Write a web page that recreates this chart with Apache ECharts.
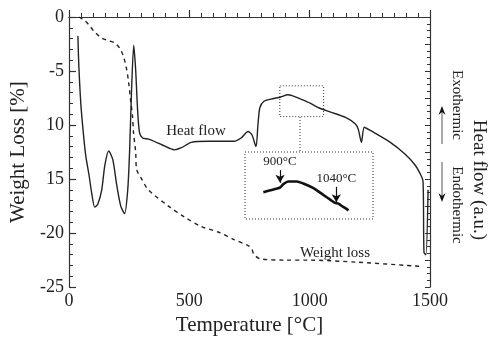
<!DOCTYPE html>
<html>
<head>
<meta charset="utf-8">
<script src="https://cdn.jsdelivr.net/npm/echarts@6/dist/echarts.min.js"></script>
<style>
  html, body { margin: 0; padding: 0; background: #fff; }
  #chart { width: 489px; height: 341px; }
</style>
</head>
<body>
<div id="chart"></div>
<script>
// temperature [°C], weight loss [%]
var weightLoss = [
  [41, 0], [66, -0.35], [83, -0.74], [107, -1.4], [136, -1.94], [165, -2.2],
  [190, -2.4], [211, -2.9], [227, -3.7], [240, -4.9], [248, -6.1], [256, -7.7],
  [264, -9.2], [268, -10.7], [277, -12.5], [281, -14.1], [302, -15.0], [330, -16.0],
  [413, -17.5], [479, -18.5], [550, -19.4], [620, -19.9], [686, -20.6], [748, -21.2],
  [760, -21.5], [769, -22.0], [797, -22.4], [900, -22.5], [992, -22.5], [1200, -22.7],
  [1471, -23.1]
];
// heat flow, arbitrary units (drawn on the right axis)
var heatFlow = [
  [37, -1.75], [41, -4.6], [50, -8.3], [62, -11.3], [70, -12.9], [83, -14.6],
  [95, -16.4], [107, -17.6], [120, -17.3], [136, -16.0], [149, -13.7], [165, -12.4],
  [182, -13.2], [198, -15.5], [215, -17.5], [231, -18.2], [244, -16.0], [252, -12.3],
  [260, -6.7], [269, -2.6], [277, -4.9], [285, -8.6], [293, -10.7], [306, -11.2],
  [331, -11.3], [384, -11.8], [438, -12.3], [467, -12.1], [508, -11.6], [579, -11.5],
  [686, -11.5], [715, -11.2], [744, -10.6], [760, -10.9], [777, -12.0], [785, -10.0],
  [793, -8.4], [810, -7.8], [839, -7.6], [880, -7.4], [909, -7.2], [930, -7.3],
  [963, -7.6], [1004, -8.0], [1037, -8.4], [1087, -8.8], [1149, -9.3], [1190, -9.9],
  [1202, -10.4], [1215, -11.6], [1227, -10.2], [1252, -10.5], [1335, -11.6], [1397, -12.7],
  [1438, -13.7], [1459, -14.5], [1471, -15.2], [1475, -21.8], [1483, -22.0], [1492, -16.0]
];
// magnified part of heat flow curve shown in the inset
var insetCurve = [
  [859, 4.0], [884, 4.4], [900, 4.7], [908, 5.2], [920, 5.6], [941, 5.6],
  [957, 5.3], [982, 4.6], [1006, 3.6], [1023, 2.9], [1035, 2.4], [1043, 2.3],
  [1055, 1.8], [1068, 1.3]
];
var xTicks = [0, 500, 1000, 1500];
var yTickLabels = ['-25', '-20', '15', '10', '-5', '0'];
var zoomBox = [[876, -6.37], [1058, -9.22]];
var arrowMarks = [
  { name: '900°C', from: [900, 7.3], to: [900, 5.4] },
  { name: '1040°C', from: [1038, 4.8], to: [1038, 2.5] }
];

var serif = '"Liberation Serif", "DejaVu Serif", serif';
var ink = '#222';
var axisCol = '#333';

var chart = echarts.init(document.getElementById('chart'), null, { renderer: 'canvas' });

var option = {
  backgroundColor: '#fff',
  animation: false,
  grid: [
    { left: 67, right: 59, top: 17, bottom: 53 },
    { left: 245, top: 152, width: 128, height: 67 }
  ],
  xAxis: [
    {
      type: 'value', gridIndex: 0, min: 0, max: 1500, interval: 500,
      name: 'Temperature [°C]', nameLocation: 'middle', nameGap: 25,
      nameTextStyle: { fontFamily: serif, fontSize: 21, color: ink },
      axisLine: { lineStyle: { color: axisCol, width: 1.2 } },
      axisTick: { inside: true, length: 7, lineStyle: { color: axisCol, width: 1.2 } },
      minorTick: { show: true, splitNumber: 10, length: 4, lineStyle: { color: axisCol, width: 1 } },
      axisLabel: {
        fontFamily: serif, fontSize: 18, color: ink, margin: 5,
        formatter: function (v) { return xTicks.indexOf(v) >= 0 ? String(v) : ''; }
      },
      splitLine: { show: false }
    },
    {
      type: 'value', gridIndex: 0, position: 'top', min: 0, max: 1500,
      axisLine: { onZero: false, lineStyle: { color: axisCol, width: 1.2 } },
      axisTick: { show: false }, axisLabel: { show: false }, splitLine: { show: false }
    },
    {
      type: 'value', gridIndex: 1, min: 814, max: 1128, show: false
    }
  ],
  yAxis: [
    {
      type: 'value', gridIndex: 0, min: -25, max: 0, interval: 5,
      name: 'Weight Loss [%]', nameLocation: 'middle', nameGap: 40, nameRotate: 90,
      nameTextStyle: { fontFamily: serif, fontSize: 21, color: ink },
      axisLine: { onZero: false, lineStyle: { color: axisCol, width: 1.2 } },
      axisTick: { inside: true, length: 7, lineStyle: { color: axisCol, width: 1.2 } },
      minorTick: { show: true, splitNumber: 5, length: 4, lineStyle: { color: axisCol, width: 1 } },
      axisLabel: {
        fontFamily: serif, fontSize: 18, color: ink, margin: 5,
        formatter: function (v) { return yTickLabels[Math.round((v + 25) / 5)]; }
      },
      splitLine: { show: false }
    },
    {
      type: 'value', gridIndex: 0, position: 'right', min: -25, max: 0, interval: 2.5,
      axisLine: { onZero: false, lineStyle: { color: axisCol, width: 1.2 } },
      axisTick: { inside: true, length: 5, lineStyle: { color: axisCol } },
      minorTick: { show: true, splitNumber: 4, length: 3, lineStyle: { color: axisCol } },
      axisLabel: { show: false },
      splitLine: { show: false }
    },
    {
      type: 'value', gridIndex: 1, min: 0, max: 10, show: false
    }
  ],
  series: [
    {
      name: 'Weight loss', type: 'line', xAxisIndex: 0, yAxisIndex: 0,
      data: weightLoss, showSymbol: false, smooth: 0.3,
      lineStyle: { color: ink, width: 1.4, type: [4, 4] }
    },
    {
      name: 'Heat flow', type: 'line', xAxisIndex: 0, yAxisIndex: 1,
      data: heatFlow, showSymbol: false, smooth: 0.25,
      lineStyle: { color: ink, width: 1.4 },
      markArea: {
        silent: true,
        itemStyle: { color: 'rgba(0,0,0,0)', borderColor: '#333', borderWidth: 1, borderType: [1, 2] },
        data: [[{ coord: zoomBox[0] }, { coord: zoomBox[1] }]]
      }
    },
    {
      name: 'inset', type: 'line', xAxisIndex: 2, yAxisIndex: 2,
      data: insetCurve, showSymbol: false, smooth: 0.3,
      lineStyle: { color: '#111', width: 2.6 },
      markLine: {
        silent: true,
        symbol: ['none', 'arrow'], symbolSize: [7, 8],
        lineStyle: { color: '#111', width: 1.2, type: 'solid' },
        label: {
          show: true, position: 'start', distance: 2,
          fontFamily: serif, fontSize: 13, color: ink,
          formatter: function (p) { return p.name; }
        },
        data: arrowMarks.map(function (a) {
          return [{ name: a.name, coord: a.from }, { coord: a.to }];
        })
      }
    }
  ],
  graphic: [
    { type: 'rect', shape: { x: 245, y: 152, width: 128, height: 67 },
      style: { fill: 'none', stroke: '#333', lineWidth: 1, lineDash: [1, 2] } },
    { type: 'line', shape: { x1: 300, y1: 117, x2: 300, y2: 152 },
      style: { stroke: '#333', lineWidth: 1, lineDash: [1, 2] } },
    { type: 'text', x: 196, y: 131,
      style: { text: 'Heat flow', font: '15px ' + serif, fill: ink, align: 'center', verticalAlign: 'middle' } },
    { type: 'text', x: 335, y: 253,
      style: { text: 'Weight loss', font: '15px ' + serif, fill: ink, align: 'center', verticalAlign: 'middle' } },
    { type: 'text', x: 479, y: 180, rotation: -Math.PI / 2,
      style: { text: 'Heat flow (a.u.)', font: '19px ' + serif, fill: ink, align: 'center', verticalAlign: 'middle' } },
    { type: 'text', x: 457, y: 105, rotation: -Math.PI / 2,
      style: { text: 'Exothermic', font: '15px ' + serif, fill: ink, align: 'center', verticalAlign: 'middle' } },
    { type: 'text', x: 457, y: 205, rotation: -Math.PI / 2,
      style: { text: 'Endothermic', font: '15px ' + serif, fill: ink, align: 'center', verticalAlign: 'middle' } },
    { type: 'line', shape: { x1: 442, y1: 110, x2: 442, y2: 144 },
      style: { stroke: '#555', lineWidth: 1 } },
    { type: 'polygon', shape: { points: [[442, 106], [438.5, 115], [442, 112], [445.5, 115]] },
      style: { fill: '#111' } },
    { type: 'line', shape: { x1: 442, y1: 162, x2: 442, y2: 198 },
      style: { stroke: '#555', lineWidth: 1 } },
    { type: 'polygon', shape: { points: [[442, 202], [438.5, 193], [442, 196], [445.5, 193]] },
      style: { fill: '#111' } }
  ]
};

chart.setOption(option);
</script>
</body>
</html>
